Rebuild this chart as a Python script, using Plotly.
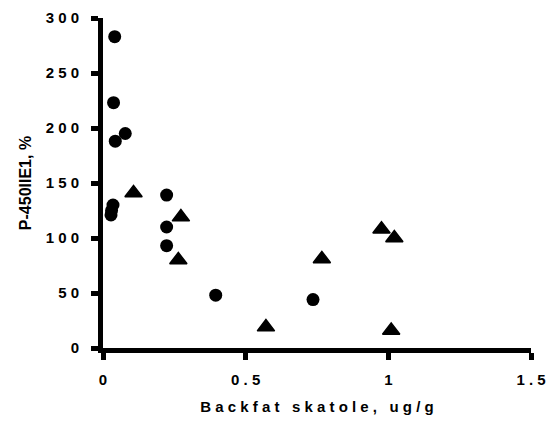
import plotly.graph_objects as go

# Data
circle_x = [0.041, 0.037, 0.078, 0.043, 0.035, 0.030, 0.028, 0.223, 0.223, 0.223, 0.395, 0.736]
circle_y = [283, 223, 195, 188, 130, 125, 121, 139, 110, 93, 48, 44]

tri_x = [0.107, 0.273, 0.264, 0.571, 0.767, 0.976, 1.021, 1.010]
tri_y = [141, 119, 80, 19, 81, 108, 100, 16]

x_ticks = [0, 0.5, 1, 1.5]
x_ticktext = ["0", "0 . 5", "1", "1 . 5"]
y_ticks = [0, 50, 100, 150, 200, 250, 300]
y_ticktext = ["0", "5 0", "1 0 0", "1 5 0", "2 0 0", "2 5 0", "3 0 0"]

x_title = "B a c k f a t\u00a0\u00a0 s k a t o l e ,\u00a0\u00a0 u g / g"
y_title = "P-450IIE1, %"

font_family = "Liberation Sans, Arial, sans-serif"

fig = go.Figure()
fig.add_trace(go.Scatter(
    x=circle_x, y=circle_y, mode="markers",
    marker=dict(symbol="circle", size=13, color="black"),
    cliponaxis=False, showlegend=False,
))
fig.add_trace(go.Scatter(
    x=tri_x, y=tri_y, mode="markers",
    marker=dict(symbol="triangle-up", size=15, color="black",
                line=dict(color="black", width=1.5)),
    cliponaxis=False, showlegend=False,
))

fig.update_layout(
    width=546, height=423,
    margin=dict(l=103, r=15, t=18, b=75, autoexpand=False),
    paper_bgcolor="white", plot_bgcolor="white",
    font=dict(family=font_family, color="black"),
)
fig.update_xaxes(
    range=[0, 1.5], tickvals=x_ticks, ticktext=x_ticktext,
    automargin=False,
    showgrid=False, zeroline=False,
    showline=True, linecolor="black", linewidth=5,
    ticks="outside", ticklen=7, tickwidth=5, tickcolor="black",
    tickfont=dict(size=15, family=font_family, color="black", weight="bold"),
    ticklabelstandoff=7,
    title=dict(text=x_title, font=dict(size=15, family=font_family, weight="bold"),
               standoff=16),
)
fig.update_yaxes(
    range=[0, 300], tickvals=y_ticks, ticktext=y_ticktext,
    automargin=False,
    showgrid=False, zeroline=False,
    showline=True, linecolor="black", linewidth=5,
    ticks="outside", ticklen=7, tickwidth=5, tickcolor="black",
    tickfont=dict(size=15, family=font_family, color="black", weight="bold"),
    ticklabelstandoff=9,
    title=dict(text=y_title, font=dict(size=16, family=font_family, weight="bold"),
               standoff=12),
)

fig.write_html(
    "out.html",
    config={"displayModeBar": False},
    post_script="document.body.style.margin='0';document.body.style.overflow='hidden';",
)
